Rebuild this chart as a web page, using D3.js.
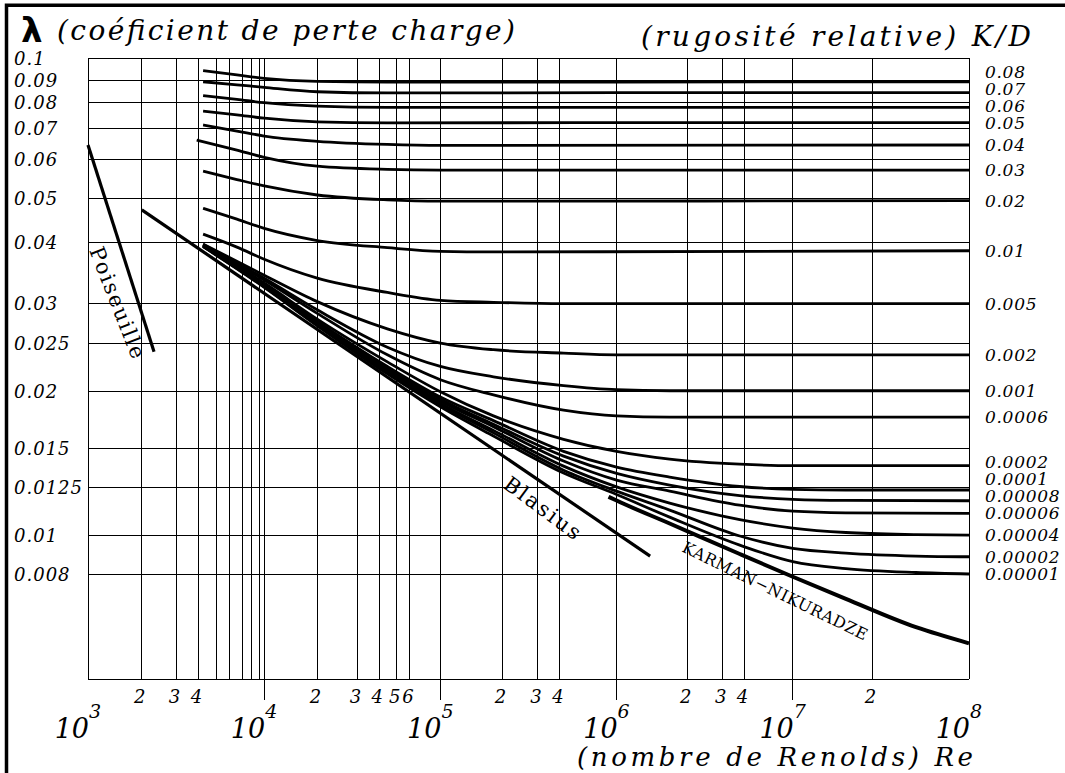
<!DOCTYPE html>
<html><head><meta charset="utf-8">
<script src="https://cdn.jsdelivr.net/npm/d3@7/dist/d3.min.js"></script>
<style>
body{margin:0;background:#fff}
svg{display:block}
text{font-family:"DejaVu Serif",serif;fill:#000}
</style></head><body>
<svg id="chart" width="1065" height="773"></svg>
<script>
// ---------- DATA ----------
// Reynolds-number grid lines (as drawn) and their labels
const reDecades = [1e3, 1e4, 1e5, 1e6, 1e7, 1e8];
const decadeExponents = ["3", "4", "5", "6", "7", "8"];
const reMinorGrid = [2020, 3180, 4240, 5360, 6340, 7560, 8490, 9420,
                     20070, 33840, 45000, 56560, 67200,
                     225100, 357500, 477200,
                     2530000, 4005000, 5320000,
                     28340000];
const reMinorLabels = ["2", "3", "4", "", "", "", "", "",
                       "2", "3", "4", "5", "6",
                       "2", "3", "4",
                       "2", "3", "4",
                       "2"];
// friction-factor grid lines (as drawn) and their labels
const lambdaGrid = [0.1, 0.0899, 0.0807, 0.0713, 0.0614, 0.0509, 0.0411, 0.0306, 0.0253, 0.0200, 0.01524, 0.01261, 0.0100, 0.00826];
const lambdaLabels = ["0.1", "0.09", "0.08", "0.07", "0.06", "0.05", "0.04", "0.03", "0.025", "0.02", "0.015", "0.0125", "0.01", "0.008"];

// relative roughness K/D curves: [Re, lambda]
const roughnessLabels = ["0.08", "0.07", "0.06", "0.05", "0.04", "0.03", "0.02", "0.01", "0.005", "0.002", "0.001", "0.0006", "0.0002", "0.0001", "0.00008", "0.00006", "0.00004", "0.00002", "0.00001"];
const kd_0_08 = [[4500,0.0942],[7000,0.0923],[1e4,0.0908],[2e4,0.0895],[5e4,0.0892],[1e6,0.0892],[1e8,0.0893]];
const kd_0_07 = [[4500,0.0893],[7000,0.0880],[1e4,0.0869],[2e4,0.0851],[5e4,0.0846],[1e6,0.0847],[1e8,0.0847]];
const kd_0_06 = [[4500,0.0835],[7000,0.0820],[1e4,0.0807],[2e4,0.0794],[5e4,0.0789],[1e6,0.0789],[1e8,0.0789]];
const kd_0_05 = [[4500,0.0775],[7000,0.0761],[1e4,0.0749],[2e4,0.0736],[5e4,0.0732],[1e6,0.0733],[1e8,0.0733]];
const kd_0_04 = [[4500,0.0725],[7000,0.0704],[1e4,0.0687],[2e4,0.0670],[5e4,0.0660],[1e5,0.0657],[1e8,0.0658]];
const kd_0_03 = [[4140,0.0674],[7000,0.0642],[1e4,0.0620],[2e4,0.0594],[5e4,0.0585],[1e5,0.0583],[1e8,0.0583]];
const kd_0_02 = [[4500,0.0580],[7000,0.0557],[1e4,0.0540],[2e4,0.0517],[5e4,0.0505],[1e5,0.0502],[2e5,0.0502],[1e8,0.0503]];
const kd_0_01 = [[4500,0.0485],[7000,0.0460],[1e4,0.0440],[2e4,0.0415],[5e4,0.0401],[1e5,0.0394],[2e5,0.0393],[1e8,0.0395]];
const kd_0_005 = [[4500,0.0428],[7000,0.0402],[1e4,0.0379],[2e4,0.0346],[5e4,0.0323],[1e5,0.0311],[2e5,0.0308],[5e5,0.0306],[1e8,0.0306]];
const kd_0_002 = [[4500,0.0408],[1e4,0.0351],[2e4,0.0309],[5e4,0.0271],[1e5,0.0253],[2e5,0.0245],[5e5,0.0241],[1e6,0.0239],[1e8,0.0239]];
const kd_0_001 = [[4500,0.0407],[1e4,0.0346],[2e4,0.0297],[5e4,0.0248],[1e5,0.0226],[2e5,0.0215],[5e5,0.0206],[1e6,0.0202],[2e6,0.0201],[1e8,0.0201]];
const kd_0_0006 = [[4500,0.0406],[1e4,0.0343],[2e4,0.0292],[5e4,0.0239],[1e5,0.0212],[2e5,0.0197],[5e5,0.0183],[1e6,0.0178],[2e6,0.0177],[1e8,0.0177]];
const kd_0_0002 = [[4500,0.0406],[1e4,0.0338],[2e4,0.0284],[5e4,0.0231],[1e5,0.0200],[2e5,0.0178],[5e5,0.0159],[1e6,0.0150],[2e6,0.01445],[5e6,0.0141],[1e7,0.0140],[1e8,0.0140]];
const kd_0_0001 = [[4500,0.0405],[1e4,0.0336],[2e4,0.0281],[5e4,0.0226],[1e5,0.0195],[2e5,0.0174],[5e5,0.0150],[1e6,0.0139],[2e6,0.01325],[5e6,0.01266],[1e7,0.01249],[2e7,0.01245],[1e8,0.01245]];
const kd_0_00008 = [[4500,0.0405],[1e4,0.0335],[2e4,0.0280],[5e4,0.0225],[1e5,0.0193],[2e5,0.0171],[5e5,0.01466],[1e6,0.01349],[2e6,0.01275],[5e6,0.01212],[1e7,0.0119],[2e7,0.01184],[1e8,0.01182]];
const kd_0_00006 = [[4500,0.0404],[1e4,0.0334],[2e4,0.0279],[5e4,0.0223],[1e5,0.0191],[2e5,0.0169],[5e5,0.01432],[1e6,0.01306],[2e6,0.01238],[5e6,0.01157],[1e7,0.01124],[2e7,0.01115],[1e8,0.01112]];
const kd_0_00004 = [[4500,0.0404],[1e4,0.0333],[2e4,0.0277],[5e4,0.0222],[1e5,0.0189],[2e5,0.0166],[5e5,0.01397],[1e6,0.01264],[2e6,0.01169],[5e6,0.01079],[1e7,0.01036],[2e7,0.01014],[5e7,0.01004],[1e8,0.01001]];
const kd_0_00002 = [[4500,0.0403],[1e4,0.0332],[2e4,0.0276],[5e4,0.0220],[1e5,0.0188],[2e5,0.0164],[5e5,0.0137],[1e6,0.01238],[2e6,0.0113],[5e6,0.00997],[1e7,0.00939],[2e7,0.00918],[5e7,0.00905],[1e8,0.00902]];
const kd_0_00001 = [[4500,0.0403],[1e4,0.0331],[2e4,0.0275],[5e4,0.0218],[1e5,0.0186],[2e5,0.01615],[5e5,0.01351],[1e6,0.01218],[2e6,0.01092],[5e6,0.00954],[1e7,0.00881],[2e7,0.00852],[5e7,0.00836],[1e8,0.0083]];

// reference laws
const karmanNikuradse = [[9e5,0.01205],[1e6,0.01183],[2e6,0.01059],[5e6,0.00914],[1e7,0.00819],[2e7,0.00736],[5e7,0.00642],[1e8,0.00594]];
const blasius = [[2020,0.0481],[1.55e6,0.00905]];
const poiseuille = [[1000,0.0658],[2370,0.02426]];

// annotation anchors [Re, lambda]
const poiseuilleLabelAt = [1013, 0.0396];
const blasiusLabelAt = [2.24e5, 0.01263];
const karmanLabelAt = [2.32e6, 0.00927];

// ---------- CHART ----------
const roughCurves = [kd_0_08, kd_0_07, kd_0_06, kd_0_05, kd_0_04, kd_0_03, kd_0_02, kd_0_01, kd_0_005,
  kd_0_002, kd_0_001, kd_0_0006, kd_0_0002, kd_0_0001, kd_0_00008, kd_0_00006, kd_0_00004, kd_0_00002, kd_0_00001];

const svg = d3.select("#chart");
const x = d3.scaleLog().domain([1e3, 1e8]).range([88, 969]);
const y = d3.scaleLog().domain([0.005, 0.1]).range([679, 58.3]);
const x0 = x.range()[0], x1 = x.range()[1], yTop = y.range()[1], yBot = y.range()[0];

// outer border (top + left)
svg.append("path").attr("d", `M6.5,773V5.2H1065`).attr("fill", "none").attr("stroke", "#000").attr("stroke-width", 3.5);

const grid = svg.append("g").attr("stroke", "#000").attr("stroke-width", 1).attr("shape-rendering", "crispEdges");
grid.selectAll("line.h").data(lambdaGrid).join("line")
  .attr("x1", x0).attr("x2", x1).attr("y1", d => y(d)).attr("y2", d => y(d));
grid.selectAll("line.vm").data(reMinorGrid).join("line")
  .attr("x1", d => x(d)).attr("x2", d => x(d)).attr("y1", yTop).attr("y2", yBot);
grid.selectAll("line.vd").data(reDecades).join("line")
  .attr("x1", d => x(d)).attr("x2", d => x(d)).attr("y1", yTop)
  .attr("y2", (d, i) => (i === 0 || i === reDecades.length - 1) ? yBot : yBot + 21);
grid.append("line").attr("x1", x0).attr("x2", x1).attr("y1", yBot).attr("y2", yBot);

// left tick labels
svg.append("g").selectAll("text").data(lambdaGrid).join("text")
  .attr("x", 14).attr("y", d => y(d) + 6.5)
  .attr("font-size", 18).attr("font-style", "italic").attr("letter-spacing", 1)
  .text((d, i) => lambdaLabels[i]);

// bottom minor labels
svg.append("g").selectAll("text").data(reMinorGrid).join("text")
  .attr("x", d => x(d) - 2).attr("y", 703).attr("text-anchor", "middle")
  .attr("font-size", 18).attr("font-style", "italic")
  .text((d, i) => reMinorLabels[i]);

// decade labels 10^n
const dec = svg.append("g");
dec.selectAll("text.b").data(reDecades).join("text")
  .attr("x", d => x(d) + 1).attr("y", 738).attr("text-anchor", "end")
  .attr("font-size", 27).attr("font-style", "italic").text("10");
dec.selectAll("text.e").data(reDecades).join("text")
  .attr("x", d => x(d) + 1).attr("y", 718)
  .attr("font-size", 19).attr("font-style", "italic").text((d, i) => decadeExponents[i]);

// curves
const line = d3.line().x(d => x(d[0])).y(d => y(d[1])).curve(d3.curveMonotoneX);
svg.append("g").attr("fill", "none").attr("stroke", "#000").attr("stroke-width", 2.8)
  .selectAll("path").data(roughCurves).join("path").attr("d", line);

svg.append("path").datum(blasius).attr("d", line).attr("fill", "none").attr("stroke", "#000").attr("stroke-width", 3.2);
svg.append("path").datum(poiseuille).attr("d", line).attr("fill", "none").attr("stroke", "#000").attr("stroke-width", 3.2);
svg.append("path").datum(karmanNikuradse).attr("d", line).attr("fill", "none").attr("stroke", "#000").attr("stroke-width", 4);

// right labels (roughness), relaxed to avoid overlap
const endY = roughCurves.map(c => y(c[c.length - 1][1]));
const labY = endY.slice();
for (let i = labY.length - 2; i >= 0; i--) labY[i] = Math.min(labY[i], labY[i + 1] - 17);
svg.append("g").selectAll("text").data(roughnessLabels).join("text")
  .attr("x", 985).attr("y", (d, i) => labY[i] + 6)
  .attr("font-size", 17).attr("font-style", "italic").attr("letter-spacing", 0.7)
  .text(d => d);

// rotated law labels
function rotLabel(at, angle, txt, size, len) {
  svg.append("text")
    .attr("transform", `translate(${x(at[0])},${y(at[1])}) rotate(${angle})`)
    .attr("font-size", size).attr("textLength", len).attr("lengthAdjust", "spacing")
    .text(txt);
}
rotLabel(poiseuilleLabelAt, 68.5, "Poiseuille", 21, 118);
rotLabel(blasiusLabelAt, 36.5, "Blasius", 21, 90);
rotLabel(karmanLabelAt, 26, "KARMAN\u2212NIKURADZE", 16, 204);

// titles
svg.append("text").attr("x", 21).attr("y", 42)
  .style("font-family", "'DejaVu Sans',sans-serif").attr("font-weight", "bold").attr("font-size", 34).text("\u03bb");
svg.append("text").attr("x", 57).attr("y", 40).attr("font-size", 28).attr("font-style", "italic")
  .attr("textLength", 458).attr("lengthAdjust", "spacing").text("(coéficient de perte charge)");
svg.append("text").attr("x", 641).attr("y", 46).attr("font-size", 28).attr("font-style", "italic")
  .attr("textLength", 390).attr("lengthAdjust", "spacing").text("(rugosité relative) K/D");
svg.append("text").attr("x", 577).attr("y", 766).attr("font-size", 26).attr("font-style", "italic")
  .attr("textLength", 396).attr("lengthAdjust", "spacing").text("(nombre de Renolds) Re");
</script>
</body></html>
